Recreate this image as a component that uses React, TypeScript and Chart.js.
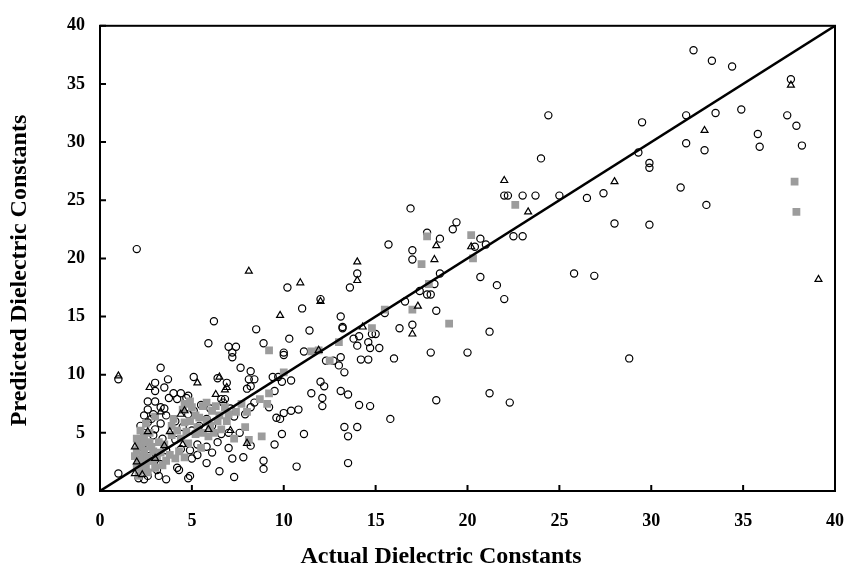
import React, { useEffect, useRef } from "react";
import { Chart, registerables } from "chart.js";

Chart.register(...registerables);

// Axis range and tick spacing (both axes share the same scale)
const AXIS_MIN = 0;
const AXIS_MAX = 40;
const TICK_STEP = 5;
const tickValues = [0, 5, 10, 15, 20, 25, 30, 35, 40];

const xTitle = "Actual Dielectric Constants";
const yTitle = "Predicted Dielectric Constants";

// y = x reference line
const parityLine: [number, number][] = [
  [0, 0],
  [40, 40],
];

// Open circles: [actual, predicted]
const circlePoints: [number, number][] = [
  [2.0, 20.8],
  [32.3, 37.9], [33.3, 37.0], [34.4, 36.5], [37.6, 35.4],
  [24.4, 32.3], [31.9, 32.3], [33.5, 32.5], [34.9, 32.8], [37.4, 32.3],
  [29.5, 31.7], [37.9, 31.4], [35.8, 30.7], [35.9, 29.6], [38.2, 29.7],
  [31.9, 29.9], [32.9, 29.3], [29.3, 29.1], [29.9, 28.2], [29.9, 27.8],
  [24.0, 28.6], [31.6, 26.1], [33.0, 24.6], [28.0, 23.0], [29.9, 22.9],
  [26.5, 25.2], [27.4, 25.6], [25.0, 25.4], [23.7, 25.4], [23.0, 25.4],
  [22.0, 25.4], [22.2, 25.4], [22.5, 21.9], [23.0, 21.9],
  [16.9, 24.3], [19.4, 23.1], [19.2, 22.5], [17.8, 22.2], [18.5, 21.7],
  [15.7, 21.2], [20.7, 21.7], [21.0, 21.2], [20.4, 21.0], [17.0, 20.7],
  [17.0, 19.9], [18.5, 18.7], [20.7, 18.4], [25.8, 18.7], [26.9, 18.5],
  [21.6, 17.7], [18.2, 17.8], [22.0, 16.5],
  [17.4, 17.2], [17.8, 16.9], [18.0, 16.9], [16.6, 16.3], [18.3, 15.5],
  [15.5, 15.3], [14.0, 18.7], [13.6, 17.5], [10.2, 17.5], [11.0, 15.7],
  [12.0, 16.5],
  [21.2, 13.7], [13.1, 15.0], [13.2, 14.1], [13.2, 14.0], [6.2, 14.6],
  [8.5, 13.9], [11.4, 13.8], [10.3, 13.1], [16.3, 14.0], [17.0, 14.3],
  [15.0, 13.5], [15.2, 12.3], [14.8, 13.5], [14.6, 12.8], [14.0, 12.5],
  [13.8, 13.1], [14.1, 13.3], [14.7, 12.3],
  [5.9, 12.7], [7.0, 12.4], [7.4, 12.4], [7.2, 11.9], [7.2, 11.5],
  [8.9, 12.7], [10.0, 11.9], [10.0, 11.7], [11.1, 12.0], [12.3, 11.2],
  [12.7, 11.2], [13.0, 10.8], [13.1, 11.5], [13.3, 10.2], [14.2, 11.3],
  [14.6, 11.3], [16.0, 11.4], [18.0, 11.9], [20.0, 11.9], [28.8, 11.4],
  [9.9, 9.4], [10.4, 9.5], [12.0, 9.4], [12.2, 9.0], [11.5, 8.4],
  [12.1, 8.0], [12.1, 7.3], [13.1, 8.6], [13.5, 8.3], [14.1, 7.4],
  [14.7, 7.3], [15.8, 6.2], [18.3, 7.8], [21.2, 8.4], [22.3, 7.6],
  [9.8, 6.2], [10.0, 6.7], [10.4, 6.9], [10.8, 7.0], [9.9, 4.9],
  [11.1, 4.9], [9.5, 4.0], [13.3, 5.5], [14.0, 5.5], [13.5, 4.7],
  [10.7, 2.1], [13.5, 2.4], [9.5, 8.6],
  [1.0, 1.5], [2.1, 1.1], [2.4, 1.0], [2.6, 1.3], [3.2, 1.3],
  [3.6, 1.0], [4.8, 1.1], [4.9, 1.3], [6.5, 1.7], [7.3, 1.2],
  [5.8, 2.4], [4.3, 1.8], [4.2, 2.0], [3.1, 1.8], [2.8, 2.1],
  [3.3, 2.3], [5.0, 2.8], [5.3, 3.1], [6.1, 3.3], [7.2, 2.8],
  [7.8, 2.9], [8.9, 2.6], [8.9, 1.9],
  [2.2, 3.2], [2.6, 3.6], [3.0, 3.3], [3.6, 3.5], [4.4, 3.6],
  [4.9, 3.5], [5.3, 4.0], [5.8, 3.8], [6.4, 4.2], [6.6, 4.9],
  [7.0, 5.0], [7.6, 5.0], [4.1, 4.4], [3.4, 4.5], [2.9, 4.8],
  [2.4, 5.0], [2.2, 5.6], [2.6, 5.9], [2.8, 6.2], [3.0, 5.3],
  [3.3, 5.8], [3.6, 6.5], [2.4, 6.5], [2.9, 6.6], [2.6, 7.0],
  [3.3, 7.2], [4.1, 6.0], [4.5, 5.5], [5.0, 5.2], [5.4, 5.6],
  [5.8, 6.2], [6.1, 5.6], [4.8, 6.6], [5.1, 6.9], [5.5, 7.4],
  [6.0, 7.1], [6.7, 7.6], [6.6, 7.9], [7.1, 7.1], [7.3, 6.4],
  [7.9, 6.6], [8.2, 7.2], [8.4, 7.6], [9.2, 7.2], [9.6, 6.3],
  [8.2, 3.9], [7.0, 3.7],
  [2.6, 7.7], [3.0, 7.7], [3.5, 7.1], [3.75, 8.0], [4.0, 8.4],
  [4.4, 8.4], [4.7, 8.0], [4.2, 7.9], [4.8, 8.2], [3.0, 9.3],
  [3.0, 8.6], [3.5, 8.9], [3.3, 10.6], [3.7, 9.6], [5.1, 9.8],
  [6.4, 9.7], [6.9, 9.3], [7.65, 10.6], [8.2, 10.3], [8.1, 9.6],
  [8.4, 9.6], [9.4, 9.8], [9.7, 9.8], [8.0, 8.8], [8.2, 9.0],
  [6.8, 7.9], [1.0, 9.6],
];

// Open triangles: [actual, predicted]
const trianglePoints: [number, number][] = [
  [1.0, 9.9], [8.1, 18.9], [10.9, 17.9], [9.8, 15.1], [14.0, 19.7],
  [14.0, 18.1], [18.3, 21.1], [18.2, 19.9], [17.3, 15.9], [17.0, 13.5],
  [22.0, 26.7], [23.3, 24.0], [28.0, 26.6], [32.9, 31.0], [39.1, 18.2],
  [20.2, 21.0], [12.0, 16.3], [14.3, 14.1], [11.9, 12.1], [37.6, 34.9],
  [1.9, 1.5], [2.0, 2.5], [2.3, 1.4], [3.0, 2.8], [3.5, 3.9],
  [1.9, 3.8], [2.7, 8.9], [5.3, 9.3], [6.5, 9.8], [6.8, 8.7],
  [6.3, 8.3], [4.6, 6.9], [4.4, 6.6], [8.0, 4.1], [3.8, 5.1],
  [5.9, 5.3], [4.5, 4.0], [7.1, 5.2], [2.6, 5.1], [6.9, 8.9],
  [3.3, 6.8],
];

// Filled grey squares: [actual, predicted]
const squarePoints: [number, number][] = [
  [37.8, 26.6], [37.9, 24.0], [22.6, 24.6], [17.8, 21.9], [20.2, 22.0],
  [20.3, 20.0], [17.5, 19.5], [17.9, 17.8], [15.5, 15.6], [17.0, 15.6],
  [19.0, 14.4], [14.8, 14.0], [13.0, 12.8], [11.5, 12.0], [11.9, 12.1],
  [9.2, 12.1], [12.5, 11.2], [10.0, 10.2],
  [2.0, 2.0], [2.1, 2.6], [2.3, 3.0], [2.5, 2.2], [2.2, 3.9],
  [2.0, 4.5], [2.4, 4.8], [2.7, 4.2], [2.5, 5.8], [2.9, 2.6],
  [3.1, 3.0], [3.5, 4.0], [3.6, 2.6], [4.1, 2.8], [4.4, 4.5],
  [4.2, 5.2], [4.6, 5.9], [4.8, 4.1], [5.2, 4.9], [5.5, 3.7],
  [5.9, 4.7], [5.0, 7.2], [4.9, 7.7], [5.6, 7.3], [5.8, 6.1],
  [6.1, 6.9], [6.2, 5.0], [6.5, 6.5], [6.9, 6.0], [7.3, 4.5],
  [7.4, 6.8], [7.7, 7.5], [7.9, 5.5], [8.0, 6.8], [8.1, 4.4],
  [8.8, 4.7], [8.7, 7.9], [9.1, 7.5], [9.2, 8.4], [3.0, 6.4],
  [3.3, 3.3], [4.0, 6.2], [6.6, 5.3], [5.3, 5.5],
  [2.1, 1.3], [2.3, 1.8], [2.2, 2.4], [2.6, 2.9], [2.4, 3.5],
  [2.8, 3.8], [2.3, 4.2], [2.6, 1.6], [3.0, 2.0], [2.7, 2.6],
  [4.5, 7.0], [5.2, 6.5], [5.6, 5.0], [6.3, 7.3], [4.9, 6.0],
  [3.9, 4.8],
  [1.9, 3.0], [2.0, 3.5], [2.1, 4.1], [2.4, 4.4], [2.2, 5.2],
  [2.7, 5.0], [2.9, 3.4], [3.2, 4.2], [3.4, 2.2], [3.8, 3.1],
  [4.3, 3.4], [4.6, 2.9], [3.9, 5.6], [4.7, 5.1], [4.6, 7.5],
  [5.8, 7.6], [6.0, 5.6], [6.4, 6.0], [6.8, 7.2], [5.4, 6.3],
  [7.0, 6.6],
];

const toXY = (pts: [number, number][]) => pts.map(([x, y]) => ({ x, y }));

const TITLE_FONT = 'bold 24px "Liberation Serif"';

// Draws the boxed frame, inward tick marks and the two axis titles.
const frameAndTitles = {
  id: "frameAndTitles",
  afterDraw(chart: any) {
    const { ctx, chartArea, scales, height } = chart;
    const { left, right, top, bottom } = chartArea;
    ctx.save();
    ctx.strokeStyle = "#000";
    ctx.lineWidth = 2;
    ctx.strokeRect(left, top, right - left, bottom - top);

    ctx.beginPath();
    for (const v of tickValues) {
      const px = scales.x.getPixelForValue(v);
      ctx.moveTo(px, bottom);
      ctx.lineTo(px, bottom - 6);
      const py = scales.y.getPixelForValue(v);
      ctx.moveTo(left, py);
      ctx.lineTo(left + 6, py);
    }
    ctx.stroke();

    ctx.fillStyle = "#000";
    ctx.font = TITLE_FONT;
    ctx.textAlign = "center";
    ctx.textBaseline = "middle";
    ctx.fillText(xTitle, left + (right - left) * 0.464, height - 18);
    ctx.translate(20, top + (bottom - top) * 0.526);
    ctx.rotate(-Math.PI / 2);
    ctx.fillText(yTitle, 0, 0);
    ctx.restore();
  },
};

export default function App() {
  const canvasRef = useRef<HTMLCanvasElement | null>(null);

  useEffect(() => {
    const canvas = canvasRef.current;
    if (!canvas) return;

    const tickFont = { family: '"Liberation Serif"', size: 18, weight: "bold" as const };

    // Earlier datasets are painted on top of later ones.
    const chart = new Chart(canvas, {
      type: "scatter",
      data: {
        datasets: [
          {
            label: "y = x",
            data: toXY(parityLine),
            showLine: true,
            borderColor: "#000",
            borderWidth: 2.5,
            pointRadius: 0,
            fill: false,
          },
          {
            label: "triangles",
            data: toXY(trianglePoints),
            pointStyle: "triangle",
            pointRadius: 4,
            borderColor: "#000",
            borderWidth: 1.2,
            backgroundColor: "rgba(0,0,0,0)",
          },
          {
            label: "squares",
            data: toXY(squarePoints),
            pointStyle: "rect",
            pointRadius: 5.5,
            borderWidth: 0,
            borderColor: "#9c9c9c",
            backgroundColor: "#9c9c9c",
          },
          {
            label: "circles",
            data: toXY(circlePoints),
            pointStyle: "circle",
            pointRadius: 3.6,
            borderColor: "#000",
            borderWidth: 1.2,
            backgroundColor: "rgba(0,0,0,0)",
          },
        ],
      },
      options: {
        responsive: false,
        animation: false,
        events: [],
        layout: { padding: { top: 19, right: 11, left: 0, bottom: 0 } },
        plugins: {
          legend: { display: false },
          tooltip: { enabled: false },
        },
        scales: {
          x: {
            type: "linear",
            min: AXIS_MIN,
            max: AXIS_MAX,
            grid: { display: false, drawTicks: false },
            border: { display: false },
            ticks: {
              stepSize: TICK_STEP,
              padding: 20,
              color: "#000",
              font: tickFont,
              maxRotation: 0,
            },
            afterFit: (scale: any) => {
              scale.height = 84;
            },
          },
          y: {
            type: "linear",
            min: AXIS_MIN,
            max: AXIS_MAX,
            grid: { display: false, drawTicks: false },
            border: { display: false },
            ticks: {
              stepSize: TICK_STEP,
              padding: 15,
              color: "#000",
              font: tickFont,
            },
            afterFit: (scale: any) => {
              scale.width = 100;
            },
          },
        },
      },
      plugins: [frameAndTitles],
    });

    return () => chart.destroy();
  }, []);

  return (
    <div style={{ position: "absolute", left: 0, top: 0, width: 864, height: 575, background: "#fff" }}>
      <canvas ref={canvasRef} width={864} height={575} style={{ width: 864, height: 575, display: "block" }} />
    </div>
  );
}
